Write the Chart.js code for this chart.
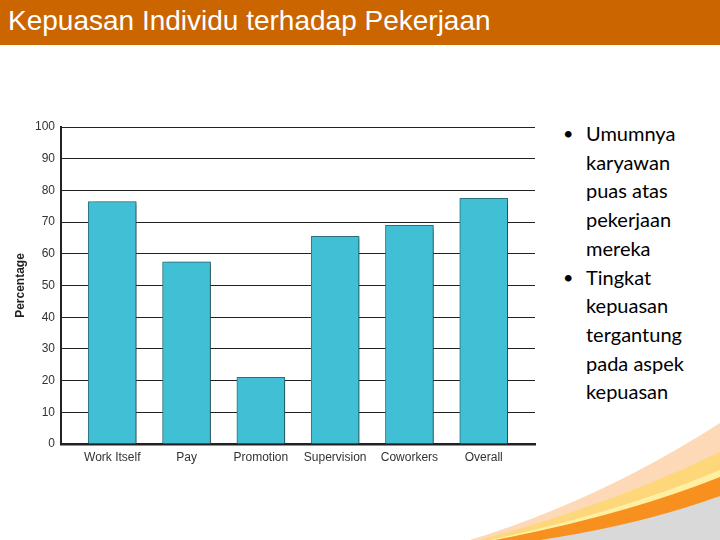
<!DOCTYPE html>
<html><head><meta charset="utf-8">
<script src="https://cdn.jsdelivr.net/npm/chart.js@4/dist/chart.umd.min.js"></script>
<style>
html,body{margin:0;padding:0;width:720px;height:540px;overflow:hidden;background:#fff;}
#hdr{position:absolute;left:0;top:0;width:720px;height:45px;background:#CA6500;}
#hdr span{position:absolute;left:8px;top:5px;font-family:"Liberation Sans",Arial,sans-serif;font-size:28px;color:#fff;white-space:nowrap;}
#deco{position:absolute;left:0;top:0;}
#wrap{position:absolute;left:0;top:0;width:545px;height:480px;}
#bul{position:absolute;left:563px;top:119px;font-family:Lato,"Open Sans",sans-serif;font-size:20px;line-height:28.7px;color:#000;}
#bul .b{position:relative;padding-left:23px;}
#bul .b::before{content:"\2022";position:absolute;left:0;top:0;font-size:18px;}
</style></head>
<body>
<svg id="deco" width="720" height="540">
  <path d="M470,540 Q600,500 720,423 L720,540 Z" fill="#FDD9B8"/>
  <path d="M480,540 Q610,505 720,452 L720,540 Z" fill="#FDD77A"/>
  <path d="M490,540 Q620,512 720,470 L720,540 Z" fill="#FEF0A0"/>
  <path d="M495,540 Q625,515 720,477 L720,540 Z" fill="#F7901E"/>
  <path d="M540,540 Q640,525 720,496 L720,540 Z" fill="#D9D9D9"/>
</svg>
<div id="hdr"><span>Kepuasan Individu terhadap Pekerjaan</span></div>
<div id="wrap"><canvas id="c" width="545" height="480"></canvas></div>
<div id="bul">
  <div class="b">Umumnya<br>karyawan<br>puas atas<br>pekerjaan<br>mereka</div>
  <div class="b">Tingkat<br>kepuasan<br>tergantung<br>pada aspek<br>kepuasan</div>
</div>
<script>
const categories = ["Work Itself", "Pay", "Promotion", "Supervision", "Coworkers", "Overall"];
const percentages = [76.5, 57.5, 21, 65.5, 69, 77.5];
const yTicks = [0, 10, 20, 30, 40, 50, 60, 70, 80, 90, 100];

const shadowPlugin = {
  id: 'shadow',
  beforeDatasetsDraw(chart) {
    const ctx = chart.ctx;
    ctx.save();
    ctx.shadowColor = 'rgba(0,0,0,0.4)';
    ctx.shadowBlur = 5;
    ctx.shadowOffsetX = 4;
    ctx.shadowOffsetY = 2;
  },
  afterDatasetsDraw(chart) { chart.ctx.restore(); }
};

new Chart(document.getElementById('c'), {
  type: 'bar',
  data: {
    datasets: [{
      data: categories.map((c, i) => ({x: i, y: percentages[i]})),
      backgroundColor: '#41BFD5',
      borderColor: '#2E7482',
      borderWidth: 1,
      borderSkipped: 'bottom',
      barThickness: 48
    }]
  },
  options: {
    responsive: false,
    animation: false,
    devicePixelRatio: 1,
    layout: {padding: {left: 0, right: 10, top: 127, bottom: 6}},
    plugins: {legend: {display: false}, tooltip: {enabled: false}},
    scales: {
      x: {
        type: 'linear',
        offset: false,
        min: -0.69, max: 5.69,
        afterBuildTicks(s) { s.ticks = categories.map((c, i) => ({value: i})); },
        afterFit(s) { s.height = 30; },
        grid: {display: false, drawTicks: false, offset: false},
        border: {display: true, color: '#222', width: 2.5},
        ticks: {
          callback: v => categories[v] ?? '',
          color: '#333', padding: 6, maxRotation: 0,
          font: {family: '"Liberation Sans", Arial, sans-serif', size: 12}
        }
      },
      y: {
        min: 0, max: 100,
        afterBuildTicks(s) { s.ticks = yTicks.map(v => ({value: v})); },
        afterFit(s) { s.width = 61; },
        grid: {color: '#222', lineWidth: 1, drawTicks: false},
        border: {display: true, color: '#222', width: 2},
        ticks: {
          color: '#333', padding: 6,
          font: {family: '"Liberation Sans", Arial, sans-serif', size: 12}
        },
        title: {
          display: true, text: 'Percentage', color: '#222',
          padding: {top: 13, bottom: 0},
          font: {family: '"Liberation Sans", Arial, sans-serif', size: 12, weight: 'bold'}
        }
      }
    }
  },
  plugins: [shadowPlugin]
});
</script>
</body></html>
